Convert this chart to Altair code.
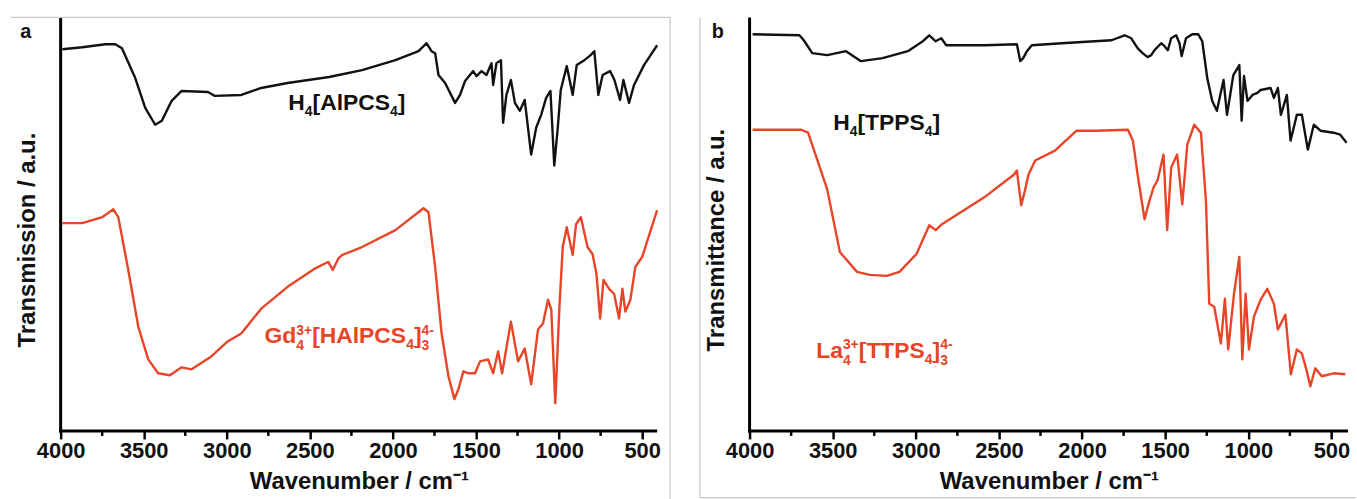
import altair as alt
import pandas as pd

FONT = "Liberation Sans"
BLACK = "#111111"
RED = "#e84428"
BORDER = "#c8c8c8"

MAJOR = [4000, 3500, 3000, 2500, 2000, 1500, 1000, 500]
MINOR = [3750, 3250, 2750, 2250, 1750, 1250, 750]

# ---------------- panel a : H4[AlPCS4] (black) ----------------
a_black_w = [3990, 3870, 3731, 3671, 3631, 3551, 3491, 3431, 3391, 3332,
             3272, 3113, 3072, 2913, 2793, 2634, 2384, 2186, 1985, 1846,
             1798, 1768, 1746, 1726, 1686, 1626, 1596, 1566, 1517, 1497,
             1467, 1437, 1407, 1397, 1377, 1350, 1337, 1317, 1290, 1266,
             1236, 1207, 1168, 1138, 1108, 1078, 1052, 1029, 1008, 990,
             954, 918, 894, 848, 810, 788, 764, 738, 693, 667,
             633, 613, 579, 549, 489, 410]
a_black_t = [384, 386, 389, 389, 385, 355, 325, 308, 312, 332,
             342, 341, 337, 338, 345, 350, 356, 363, 373, 382,
             390, 382, 380, 358, 350, 330, 338, 352, 362, 357,
             362, 358, 370, 348, 370, 373, 310, 338, 353, 330,
             322, 333, 278, 305, 318, 335, 342, 267, 305, 343,
             367, 338, 368, 373, 378, 382, 338, 358, 362, 353,
             333, 353, 330, 348, 368, 388]

# ---------------- panel a : Gd complex (red) ----------------
a_red_w = [3990, 3870, 3750, 3683, 3653, 3593, 3533, 3473, 3413, 3342,
           3272, 3212, 3093, 2995, 2913, 2793, 2634, 2474, 2390, 2362,
           2330, 2306, 2186, 1985, 1816, 1786, 1746, 1707, 1666, 1630,
           1606, 1576, 1546, 1506, 1476, 1427, 1397, 1367, 1343, 1290,
           1247, 1207, 1168, 1127, 1097, 1067, 1047, 1023, 998, 978,
           954, 918, 898, 869, 829, 799, 775, 753, 733, 699,
           669, 639, 619, 601, 571, 541, 500, 410]
a_red_t = [209, 209, 215, 223, 215, 162, 105, 72, 58, 56,
           64, 62, 75, 90, 98, 123, 145, 163, 170, 162,
           173, 177, 185, 202, 224, 220, 165, 98, 55, 32,
           42, 60, 58, 58, 70, 72, 58, 80, 58, 110,
           70, 83, 47, 102, 108, 132, 122, 28, 125, 185,
           205, 177, 208, 215, 185, 178, 158, 113, 152, 143,
           138, 113, 143, 120, 132, 165, 175, 222]

# ---------------- panel b : H4[TPPS4] (black) ----------------
b_black_w = [3982, 3700, 3674, 3623, 3533, 3420, 3330, 3200, 3048, 2958,
             2919, 2881, 2847, 2817, 2588, 2392, 2372, 2354, 2332, 2302,
             2123, 1923, 1823, 1744, 1704, 1666, 1636, 1606, 1584, 1564,
             1524, 1504, 1484, 1464, 1434, 1414, 1401, 1375, 1337, 1301,
             1277, 1247, 1217, 1189, 1149, 1128, 1090, 1054, 1040, 1026,
             1005, 975, 945, 926, 866, 846, 822, 804, 768, 746,
             708, 678, 642, 606, 566, 487, 447, 409]
b_black_t = [399, 398, 393, 380, 378, 382, 372, 375, 382, 392,
             398, 392, 395, 388, 388, 389, 372, 375, 382, 388,
             390, 392, 393, 398, 395, 385, 380, 376, 378, 383,
             390, 387, 383, 395, 398, 390, 377, 395, 399, 399,
             392, 355, 332, 322, 353, 318, 358, 368, 312, 357,
             332, 338, 340, 343, 345, 335, 345, 318, 338, 292,
             318, 318, 283, 308, 302, 300, 298, 290]

# ---------------- panel b : La complex (red) ----------------
b_red_w = [3982, 3689, 3648, 3533, 3457, 3354, 3277, 3175, 3098, 2996,
           2919, 2881, 2843, 2588, 2409, 2392, 2366, 2342, 2322, 2282,
           2163, 2033, 1923, 1724, 1694, 1666, 1624, 1594, 1570, 1546,
           1510, 1488, 1464, 1428, 1397, 1367, 1325, 1285, 1255, 1235,
           1205, 1165, 1141, 1121, 1086, 1054, 1036, 1016, 996, 966,
           926, 886, 846, 822, 777, 744, 708, 678, 651, 627,
           597, 558, 487, 417]
b_red_t = [303, 303, 300, 243, 180, 160, 157, 156, 160, 178,
           207, 202, 208, 235, 258, 262, 227, 243, 258, 272,
           282, 302, 302, 303, 292, 258, 213, 232, 245, 252,
           278, 202, 265, 278, 228, 288, 308, 300, 232, 128,
           125, 88, 133, 82, 138, 175, 72, 138, 82, 115,
           132, 143, 128, 102, 117, 57, 82, 78, 62, 45,
           63, 55, 58, 57]

# series label anchors (wavenumber, transmission) and text pieces
# piece: (text, dx, dy, size)
a_black_anchor = (2630, 323)
a_black_pieces = [("H", 0, 0, 23), ("4", 16.6, 6, 14), ("[AlPCS", 24.4, 0, 23),
                  ("4", 102.3, 6, 14), ("]", 110.1, 0, 23)]
a_red_anchor = (2773, 88)
a_red_pieces = [("Gd", 0, 0, 23), ("3+", 31.9, -9, 14), ("4", 31.9, 7, 14),
                ("[HAlPCS", 47.9, 0, 23), ("4", 142.5, 6, 14), ("]", 150.3, 0, 23),
                ("4-", 158.0, -9, 14), ("3", 158.0, 7, 14)]
b_black_anchor = (3497, 303)
b_black_pieces = [("H", 0, 0, 23), ("4", 16.6, 6, 14), ("[TPPS", 24.4, 0, 23),
                  ("4", 92.1, 6, 14), ("]", 99.9, 0, 23)]
b_red_anchor = (3599, 73)
b_red_pieces = [("La", 0, 0, 23), ("3+", 26.8, -9, 14), ("4", 26.8, 7, 14),
                ("[TTPS", 42.8, 0, 23), ("4", 109.2, 6, 14), ("]", 117.0, 0, 23),
                ("4-", 124.7, -9, 14), ("3", 124.7, 7, 14)]

PLOT_H = 416

X_AXIS = alt.Axis(
    values=MAJOR, format="d", grid=False, domain=False,
    tickColor="black", tickWidth=2.5, tickSize=8,
    labelFont=FONT, labelFontSize=22, labelFontWeight="bold",
    labelColor="#111", labelPadding=2, labelFlush=False,
    title="Wavenumber / cm\u207b\u00b9", titleFont=FONT, titleFontSize=24,
    titleFontWeight="bold", titleColor="#111", titleY=58,
    titleBaseline="alphabetic")
Y_AXIS = alt.Axis(domain=False, ticks=False, labels=False, grid=False, title="")


def label_layers(anchor, pieces, color):
    df = pd.DataFrame({"w": [anchor[0]], "t": [anchor[1]]})
    out = []
    for txt, dx, dy, size in pieces:
        out.append(
            alt.Chart(df).mark_text(
                text=txt, dx=dx, dy=dy, align="left", baseline="alphabetic",
                fontSize=size, font=FONT, fontWeight="bold", color=color
            ).encode(x=alt.X("w:Q", axis=X_AXIS), y=alt.Y("t:Q", axis=Y_AXIS))
        )
    return out


def rule(x, x2, y, y2, color=BORDER, width=1.3):
    return alt.Chart(pd.DataFrame({"k": [0]})).mark_rule(
        color=color, strokeWidth=width
    ).encode(x=alt.value(x), x2=alt.value(x2), y=alt.value(y), y2=alt.value(y2))


def panel(bw, bt, rw, rt, xend, width, ytitle, letter, letter_x, labels, borders):
    df = pd.DataFrame({
        "w": bw + rw,
        "t": bt + rt,
        "s": ["k"] * len(bw) + ["r"] * len(rw),
    })
    xscale = alt.Scale(domain=[4000, xend], nice=False, zero=False)
    yscale = alt.Scale(domain=[0, PLOT_H], nice=False, zero=False)
    lines = alt.Chart(df).mark_line(strokeWidth=2.4, strokeJoin="round").encode(
        x=alt.X("w:Q", scale=xscale, axis=X_AXIS),
        y=alt.Y("t:Q", scale=yscale, axis=Y_AXIS),
        color=alt.Color("s:N", scale=alt.Scale(domain=["k", "r"], range=[BLACK, RED]),
                        legend=None),
    )
    # minor ticks below the x axis line
    minor = alt.Chart(pd.DataFrame({"w": MINOR})).mark_rule(
        color="black", strokeWidth=2.5
    ).encode(x=alt.X("w:Q", axis=X_AXIS), y=alt.value(PLOT_H), y2=alt.value(PLOT_H + 5))
    yline = rule(0, 0, 0, PLOT_H + 1.5, color="black", width=3)
    xline = rule(-1.5, width, PLOT_H, PLOT_H, color="black", width=3)
    ytit = alt.Chart(pd.DataFrame({"k": [0]})).mark_text(
        text=ytitle, font=FONT, fontSize=24, fontWeight="bold", color="#111",
        angle=270, align="center", baseline="middle"
    ).encode(x=alt.value(-33), y=alt.value(224))
    let = alt.Chart(pd.DataFrame({"k": [0]})).mark_text(
        text=letter, font=FONT, fontSize=20, fontWeight="bold", color="#111",
        align="center", baseline="alphabetic"
    ).encode(x=alt.value(letter_x), y=alt.value(21))
    layers = [lines, minor, yline, xline, ytit, let] + labels + borders
    return alt.layer(*layers).properties(width=width, height=PLOT_H)


pa = panel(a_black_w, a_black_t, a_red_w, a_red_t, 410, 600,
           "Transmission / a.u.", "a", -35,
           label_layers(a_black_anchor, a_black_pieces, BLACK)
           + label_layers(a_red_anchor, a_red_pieces, RED),
           [rule(-50, 613, 0, 0), rule(613, 613, 0, 490)])
pb = panel(b_black_w, b_black_t, b_red_w, b_red_t, 400, 602,
           "Transmittance / a.u.", "b", -32,
           label_layers(b_black_anchor, b_black_pieces, BLACK)
           + label_layers(b_red_anchor, b_red_pieces, RED),
           [rule(-50, -50, 0, 483), rule(-50, 610, 483, 483)])

chart = alt.hconcat(pa, pb, spacing=93, bounds="flush").configure_view(
    stroke=None
).properties(
    padding={"left": 10, "top": 14, "right": 0, "bottom": 0},
    background="white",
)

chart.save("out.html", embed_options={"renderer": "svg", "actions": False})
